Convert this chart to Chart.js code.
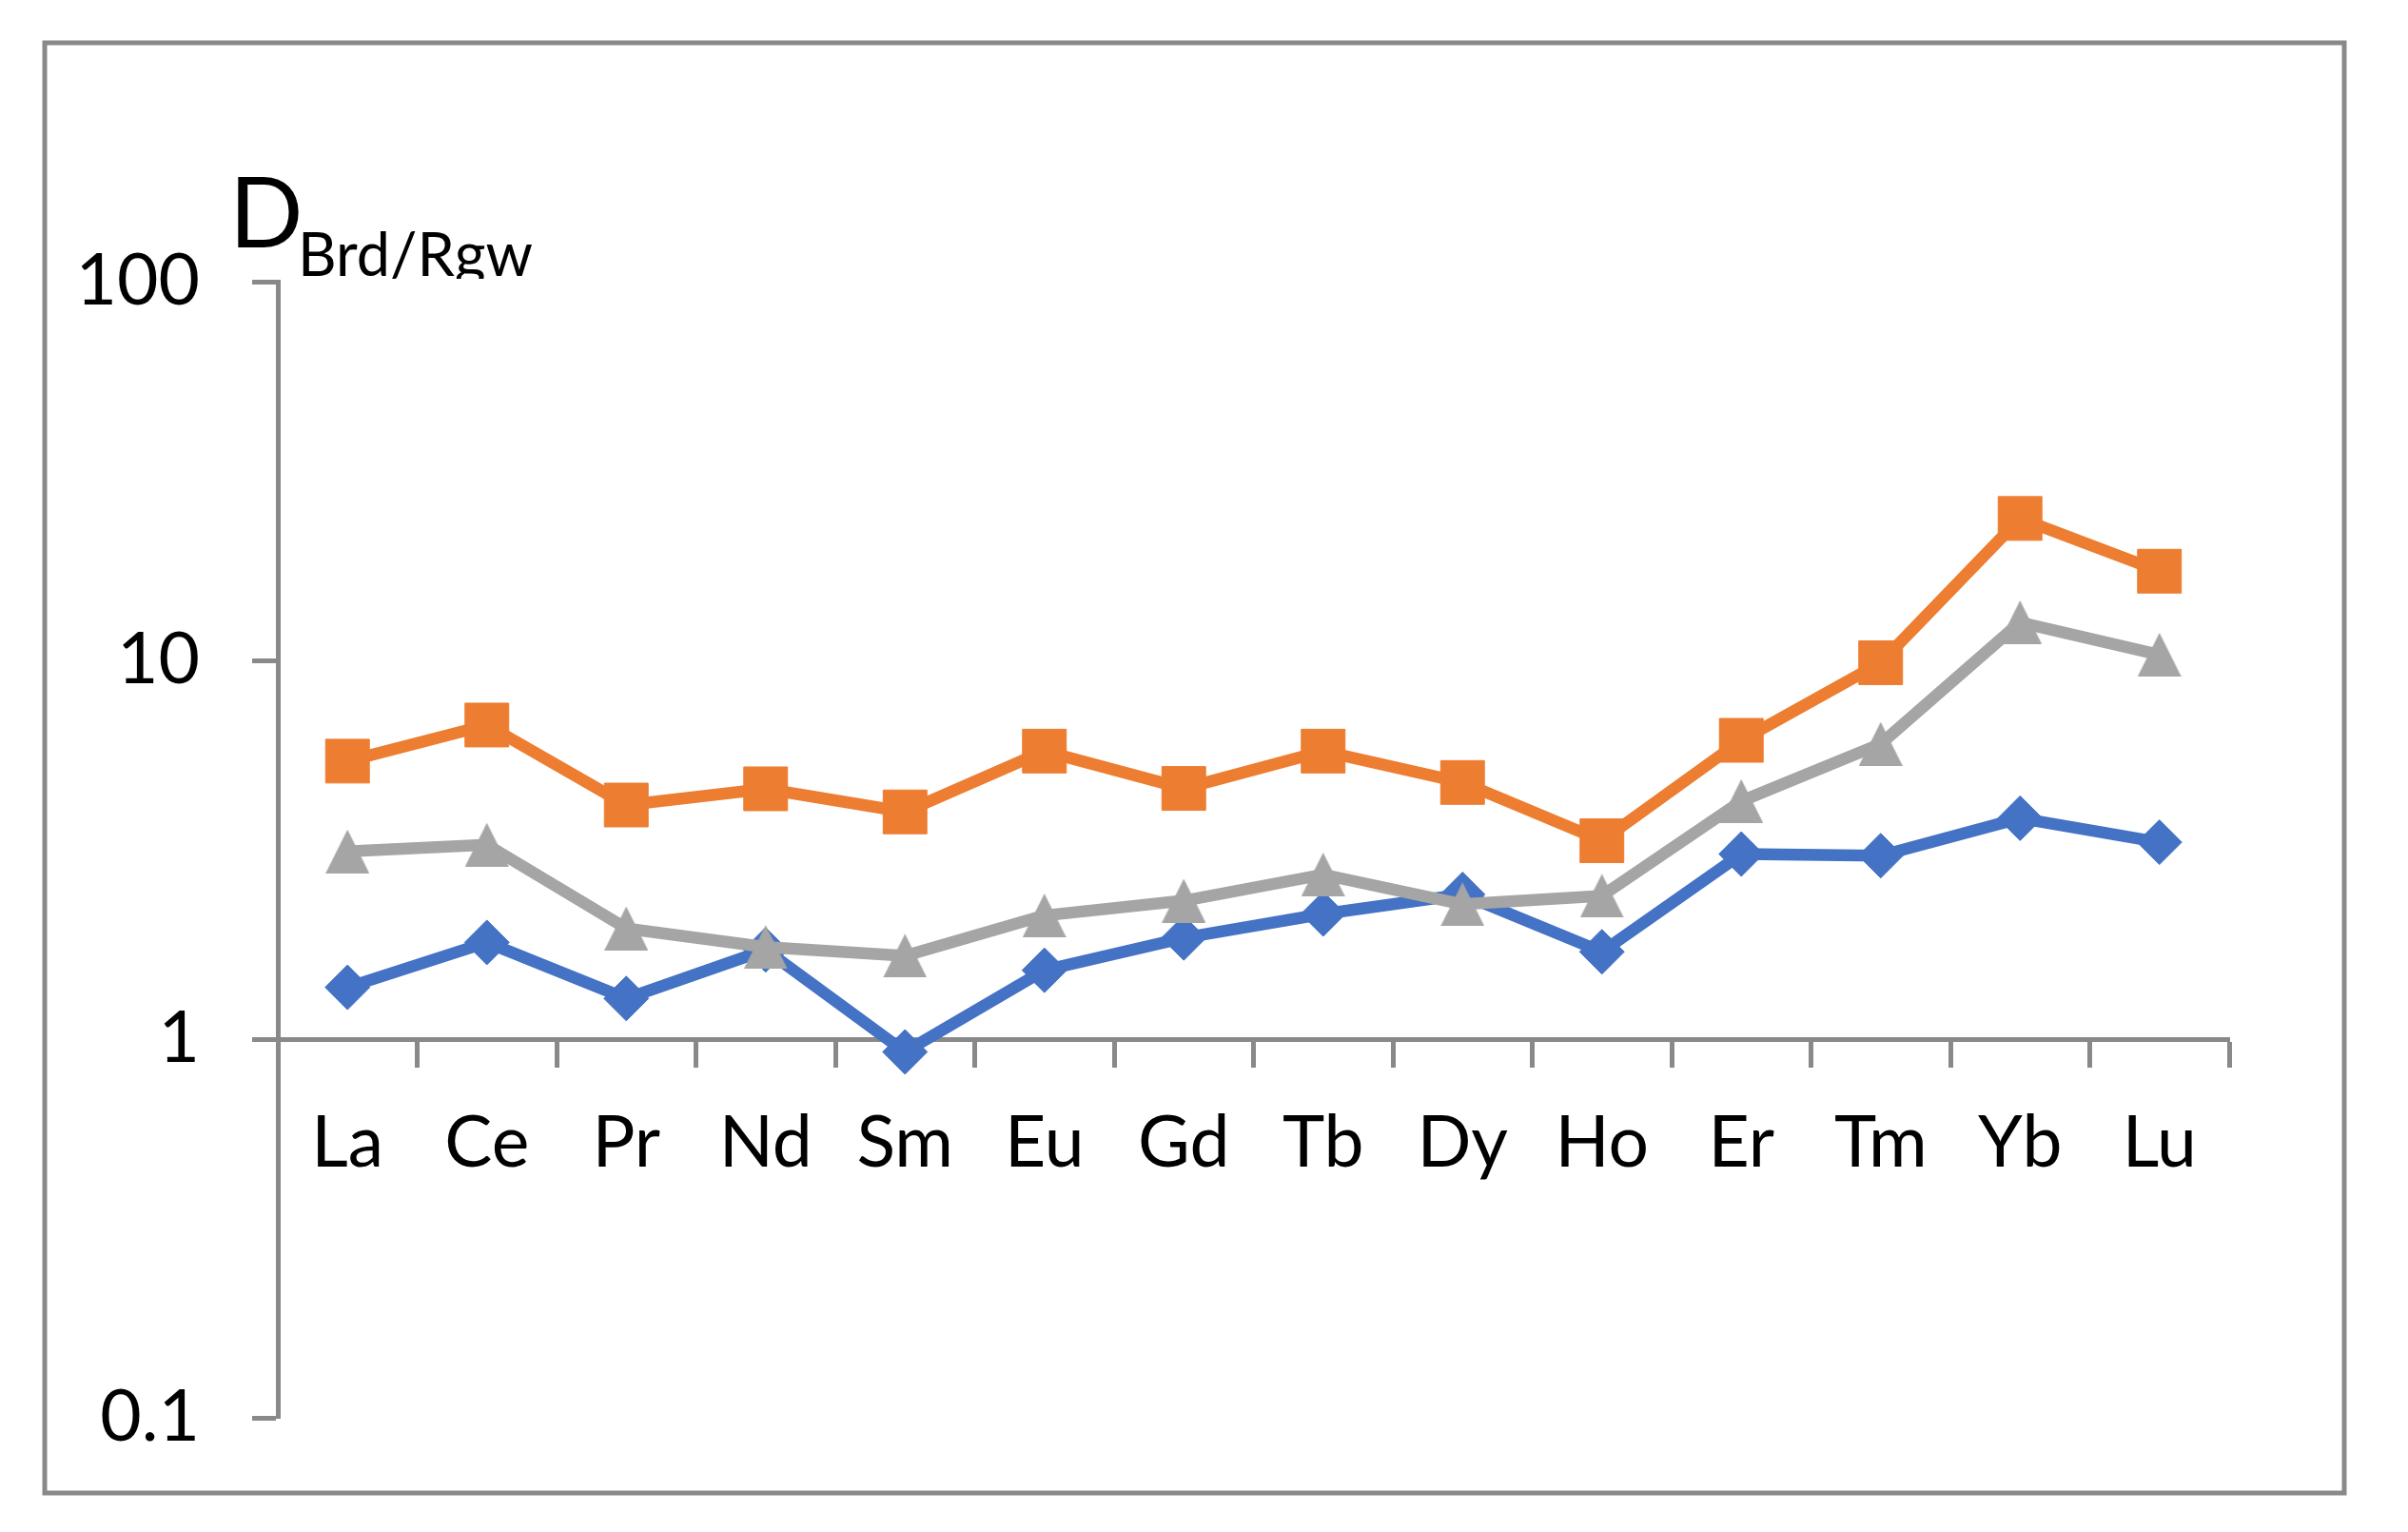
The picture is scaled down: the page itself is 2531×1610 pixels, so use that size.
<!DOCTYPE html>
<html>
<head>
<meta charset="utf-8">
<script src="https://cdn.jsdelivr.net/npm/chart.js@4.4.1/dist/chart.umd.min.js"></script>
<style>
    html, body { margin: 0; padding: 0; background: #fff; }
    canvas { display: block; }
</style>
</head>
<body>
<canvas id="reeChart" width="2531" height="1610"></canvas>
<script>
const elements = ['La', 'Ce', 'Pr', 'Nd', 'Sm', 'Eu', 'Gd', 'Tb', 'Dy', 'Ho', 'Er', 'Tm', 'Yb', 'Lu'];
const blueSeries = [1.37, 1.80, 1.28, 1.72, 0.925, 1.52, 1.85, 2.14, 2.41, 1.70, 3.08, 3.05, 3.83, 3.31];
const orangeSeries = [5.42, 6.75, 4.15, 4.58, 3.98, 5.76, 4.59, 5.76, 4.76, 3.34, 6.15, 9.86, 23.7, 17.2];
const graySeries = [3.13, 3.26, 1.96, 1.75, 1.66, 2.12, 2.32, 2.72, 2.27, 2.39, 4.25, 6.02, 12.6, 10.35];
const yTicks = [0.1, 1, 10, 100];

const axisGrey = '#898989';
const labelFont = { family: 'Lato', size: 75 };

// excel-like triangle marker (base = height)
function triangleMarker(w, h, color) {
    const c = document.createElement('canvas');
    c.width = w;
    c.height = h;
    const g = c.getContext('2d');
    g.fillStyle = color;
    g.beginPath();
    g.moveTo(w / 2, 0);
    g.lineTo(w, h);
    g.lineTo(0, h);
    g.closePath();
    g.fill();
    return c;
}

// outer frame + "D Brd/Rgw" label
const framePlugin = {
    id: 'frame',
    beforeDraw(chart) {
        const ctx = chart.ctx;
        ctx.save();
        ctx.fillStyle = '#fff';
        ctx.fillRect(0, 0, chart.width, chart.height);
        ctx.strokeStyle = axisGrey;
        ctx.lineWidth = 5;
        ctx.strokeRect(47, 45, 2417, 1524);

        ctx.beginPath();
        ctx.rect(0, 0, chart.width, 293);
        ctx.clip();
        ctx.fillStyle = '#000';
        ctx.textBaseline = 'alphabetic';
        ctx.font = '102px Lato';
        ctx.fillText('D', 241, 260);
        ctx.font = '63px Lato';
        ctx.fillText('Brd/Rgw', 313, 290);
        ctx.restore();
    }
};

const ctx = document.getElementById('reeChart').getContext('2d');

const reeChart = new Chart(ctx, {
    type: 'line',
    data: {
        labels: elements,
        datasets: [{
            label: 'Series1',
            data: blueSeries,
            borderColor: '#4472C4',
            backgroundColor: '#4472C4',
            borderWidth: 12.5,
            pointStyle: 'rectRot',
            pointRadius: 23.5,
            pointBorderWidth: 1,
            order: 3
        }, {
            label: 'Series2',
            data: orangeSeries,
            borderColor: '#ED7D31',
            backgroundColor: '#ED7D31',
            borderWidth: 12.5,
            pointStyle: 'rect',
            pointRadius: 32.5,
            pointBorderWidth: 1,
            order: 2
        }, {
            label: 'Series3',
            data: graySeries,
            borderColor: '#A5A5A5',
            backgroundColor: '#A5A5A5',
            borderWidth: 12.5,
            pointStyle: triangleMarker(46, 46, '#A5A5A5'),
            pointRadius: 23,
            order: 1
        }]
    },
    options: {
        responsive: false,
        animation: false,
        devicePixelRatio: 1,
        layout: {
            padding: { left: 0, top: 296, right: 188, bottom: 120 }
        },
        elements: {
            line: { tension: 0, borderJoinStyle: 'round', borderCapStyle: 'round' }
        },
        plugins: {
            legend: { display: false },
            tooltip: { enabled: false }
        },
        scales: {
            x: {
                type: 'category',
                position: { y: 1 },
                offset: true,
                grid: {
                    offset: true,
                    drawOnChartArea: false,
                    tickLength: 27,
                    tickWidth: 5,
                    tickColor: axisGrey
                },
                border: { display: true, color: axisGrey, width: 5 },
                ticks: { font: labelFont, color: '#000', padding: 38, maxRotation: 0, autoSkip: false },
                afterFit(scale) {
                    scale.height = 0;
                }
            },
            y: {
                type: 'logarithmic',
                position: 'left',
                min: 0.1,
                max: 100,
                grid: {
                    drawOnChartArea: false,
                    tickLength: 27,
                    tickWidth: 5,
                    tickColor: axisGrey
                },
                border: { display: true, color: axisGrey, width: 5 },
                ticks: {
                    font: labelFont,
                    color: '#000',
                    padding: 55,
                    callback: (v) => String(v)
                },
                afterBuildTicks(scale) {
                    scale.ticks = yTicks.map(v => ({ value: v }));
                },
                afterFit(scale) {
                    scale.width = 292;
                }
            }
        }
    },
    plugins: [framePlugin]
});
</script>
</body>
</html>
